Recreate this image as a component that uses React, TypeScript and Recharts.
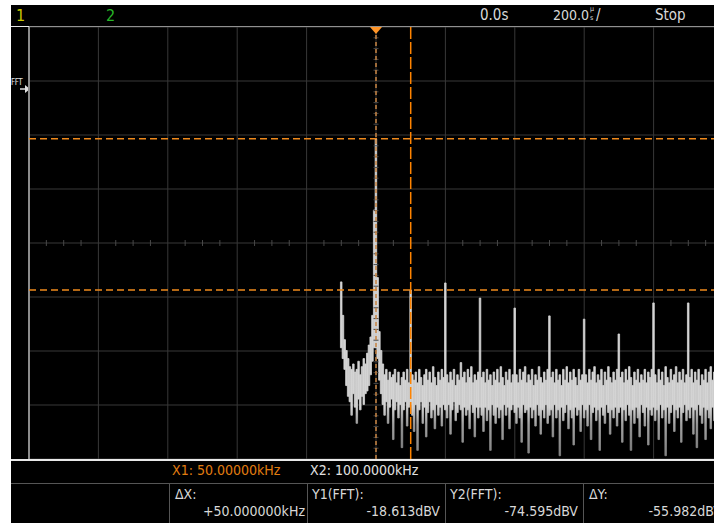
import { ComposedChart, Bar, XAxis, YAxis, CartesianGrid, ReferenceLine, ReferenceDot } from 'recharts'

// FFT magnitude (dBV) per 2.5 kHz display bin as [min, max], grouped in 50 kHz bands
const BIN_KHZ = 2.5
const band0 = [[-96, -71.6], [-100, -84], [-104, -93], [-110, -97], [-114, -100], [-116, -103], [-121, -104], [-113, -102], [-118, -105], [-124, -104], [-115, -101], [-119, -106], [-114, -103], [-117, -100], [-113, -102], [-112, -98], [-110, -95], [-106, -92], [-101, -84], [-96, -45]]
const band1 = [[-96, -18.613], [-100, -70], [-108, -90], [-113, -97], [-117, -102], [-121, -106], [-116, -104], [-124, -108], [-118, -105], [-115, -107], [-130, -106], [-119, -104], [-116, -109], [-122, -105], [-117, -110], [-133, -107], [-119, -105], [-116, -108], [-125, -104], [-118, -109]]
const band2 = [[-117, -74.595], [-121, -106], [-127, -108], [-117, -105], [-134, -109], [-119, -104], [-116, -107], [-124, -110], [-118, -106], [-129, -104], [-120, -108], [-116, -105], [-122, -109], [-119, -103], [-126, -107], [-117, -110], [-121, -105], [-118, -108], [-125, -104], [-117, -107]]
const band3 = [[-119, -72.0], [-122, -106], [-117, -109], [-128, -105], [-119, -108], [-116, -104], [-123, -110], [-120, -106], [-117, -108], [-119, -101.5], [-131, -107], [-118, -105], [-121, -109], [-119, -104], [-126, -107], [-117, -103], [-120, -109], [-129, -106], [-118, -108], [-122, -105]]
const band4 = [[-118, -77.6], [-121, -107], [-127, -105], [-118, -109], [-123, -104], [-119, -108], [-134, -106], [-117, -110], [-121, -105], [-124, -108], [-118, -104], [-122, -109], [-119, -103], [-130, -107], [-117, -110], [-121, -105], [-118, -108], [-126, -104], [-119, -109], [-117, -106]]
const band5 = [[-120, -81.3], [-124, -106], [-118, -109], [-122, -104], [-131, -108], [-117, -105], [-120, -103], [-119, -109], [-135, -106], [-118, -108], [-122, -104], [-119, -110], [-125, -106], [-117, -108], [-121, -103], [-128, -107], [-119, -109], [-122, -105], [-117, -108], [-124, -104]]
const band6 = [[-121, -84.2], [-119, -107], [-129, -105], [-117, -109], [-122, -104], [-119, -108], [-136, -106], [-118, -110], [-123, -104], [-120, -108], [-117, -103], [-126, -109], [-119, -105], [-122, -108], [-132, -104], [-118, -107], [-121, -110], [-119, -104], [-127, -108], [-117, -106]]
const band7 = [[-122, -85.4], [-119, -106], [-125, -109], [-117, -104], [-130, -108], [-120, -105], [-118, -103], [-123, -109], [-119, -106], [-134, -108], [-118, -104], [-121, -110], [-124, -105], [-117, -108], [-120, -103], [-128, -107], [-119, -109], [-122, -105], [-118, -108], [-125, -104]]
const band8 = [[-120, -90.9], [-118, -107], [-131, -105], [-119, -109], [-123, -104], [-117, -108], [-121, -103], [-134, -107], [-119, -110], [-124, -105], [-118, -108], [-122, -104], [-129, -109], [-117, -106], [-120, -108], [-125, -104], [-118, -109], [-132, -105], [-119, -107], [-121, -104]]
const band9 = [[-118, -79.4], [-123, -106], [-119, -109], [-130, -104], [-117, -108], [-122, -105], [-119, -110], [-136, -103], [-118, -107], [-124, -109], [-120, -104], [-117, -108], [-127, -106], [-119, -103], [-122, -109], [-118, -105], [-131, -108], [-120, -104], [-117, -109], [-123, -106]]
const band10 = [[-119, -79.4], [-122, -107], [-118, -104], [-128, -109], [-119, -105], [-133, -108], [-117, -104], [-121, -110], [-124, -106], [-118, -108], [-130, -104], [-119, -109], [-122, -105], [-126, -103], [-118, -108], [-123, -105], [-119, -110], [-125, -106], [-120, -108], [-122, -105]]

// screen: 10 div x 100 kHz centred on 50 kHz, 8 div x 20 dB
const X_DOMAIN = [-450, 550]
const Y_DOMAIN = [-137.2, 22.8]
const X_GRID = [-350, -250, -150, -50, 50, 150, 250, 350, 450]
const Y_GRID = [2.8, -17.2, -37.2, -57.2, -77.2, -97.2, -117.2]
const CENTER_KHZ = 50
const CENTER_DBV = -57.2

// cursors
const X1_KHZ = 50
const X2_KHZ = 100
const Y1_DBV = -18.613
const Y2_DBV = -74.595

const trace = [band0, band1, band2, band3, band4, band5, band6, band7, band8, band9, band10]
  .flat()
  .map((span, i) => ({ khz: i * BIN_KHZ, span }))

// minor ticks on the centre cross: 4 per division across, 5 per division down
const minorX: number[] = []
for (let k = -450; k <= 550; k += 25) if ((k - 50) % 100 !== 0) minorX.push(k)
const minorY: number[] = []
for (let i = 0; i <= 40; i++) if (i % 5 !== 0) minorY.push(22.8 - i * 4)

const FONT = "'Liberation Sans Narrow', 'DejaVu Sans Condensed', 'Roboto Condensed', sans-serif"
const ORANGE = '#f08a1c'

const txt = (left: number, top: number, size: number, color: string, extra: any = {}) => ({
  position: 'absolute' as const,
  left,
  top,
  fontSize: size,
  color,
  fontFamily: FONT,
  lineHeight: 1,
  whiteSpace: 'nowrap' as const,
  ...extra,
})

const PeakMarker = (props: any) => {
  const { cx, cy } = props
  return <path d={`M${cx - 6},${cy} L${cx + 6},${cy} L${cx},${cy + 7} Z`} fill="#ff9426" />
}

export default function App() {
  return (
    <div style={{ position: 'absolute', left: 0, top: 0, width: 714, height: 523, background: '#fff', overflow: 'hidden' }}>
      <div style={{ position: 'absolute', left: 11, top: 5, width: 703, height: 518, background: '#000' }} />

      {/* status bar */}
      <div style={txt(16, 8, 16, '#c8c800')}>1</div>
      <div style={txt(106, 8, 16, '#28b428')}>2</div>
      <div style={txt(480, 8, 15, '#d8d8d8')}>0.0s</div>
      <div style={txt(553, 8, 14, '#d8d8d8')}>200.0</div>
      <div style={txt(590, 6, 7, '#d8d8d8')}>µ</div>
      <div style={txt(590, 15, 7, '#d8d8d8')}>s</div>
      <div style={txt(596, 8, 15, '#d8d8d8')}>/</div>
      <div style={txt(655, 8, 15, '#d8d8d8')}>Stop</div>
      <div style={{ position: 'absolute', left: 11, top: 26, width: 703, height: 1, background: '#e8e8e8' }} />

      {/* FFT ground marker */}
      <div style={txt(11, 79, 8, '#e0e0e0', { letterSpacing: -0.5 })}>FFT</div>
      <svg style={{ position: 'absolute', left: 11, top: 84 }} width={20} height={12}>
        <line x1={9} y1={5} x2={14} y2={5} stroke="#e0e0e0" strokeWidth={1.5} />
        <path d="M14,1 L19,5 L14,9 Z" fill="#e0e0e0" />
      </svg>

      <div style={{ position: 'absolute', left: 0, top: 0 }}>
        <ComposedChart width={730} height={523} data={trace} barCategoryGap={0} barGap={0} margin={{ top: 27, right: 7, bottom: 64, left: 29 }}>
          <defs>
            <linearGradient id="traceShade" gradientUnits="userSpaceOnUse" x1={0} y1={27} x2={0} y2={459}>
              <stop offset="0.88" stopColor="#d4d4d4" />
              <stop offset="0.92" stopColor="#a0a0a0" />
              <stop offset="1" stopColor="#808080" />
            </linearGradient>
          </defs>
          <XAxis dataKey="khz" type="number" domain={X_DOMAIN} ticks={X_GRID} hide allowDataOverflow />
          <YAxis type="number" domain={Y_DOMAIN} ticks={Y_GRID} hide allowDataOverflow />
          <CartesianGrid stroke="#383838" strokeWidth={1} />
          <ReferenceLine x={-450} stroke="#8c8c8c" strokeWidth={2} />
          {minorX.map((k) => (
            <ReferenceLine key={`mx${k}`} segment={[{ x: k, y: CENTER_DBV - 1.1 }, { x: k, y: CENTER_DBV + 1.1 }]} stroke="#484848" />
          ))}
          {minorY.map((d) => (
            <ReferenceLine key={`my${d}`} segment={[{ x: CENTER_KHZ - 3.6, y: d }, { x: CENTER_KHZ + 3.6, y: d }]} stroke="#484848" />
          ))}
          <Bar
            dataKey="span"
            barSize={2}
            fill="url(#traceShade)"
            stroke="url(#traceShade)"
            strokeWidth={0.8}
            isAnimationActive={false}
          />
          <ReferenceLine y={Y1_DBV} stroke={ORANGE} strokeWidth={1.5} strokeDasharray="7 4" />
          <ReferenceLine y={Y2_DBV} stroke={ORANGE} strokeWidth={1.5} strokeDasharray="7 4" />
          <ReferenceLine x={X1_KHZ} stroke="#c88442" strokeWidth={1.5} strokeDasharray="4 3" />
          <ReferenceLine x={X2_KHZ} stroke="#ff8400" strokeWidth={1.5} strokeDasharray="12 3" />
          <ReferenceDot x={X1_KHZ} y={Y_DOMAIN[1]} r={6} shape={PeakMarker} ifOverflow="visible" />
        </ComposedChart>
      </div>
      <div style={{ position: 'absolute', left: 11, top: 459, width: 703, height: 1.5, background: '#e8e8e8' }} />

      {/* cursor readout */}
      <div style={txt(172, 463, 14, '#e07c10')}>X1: 50.00000kHz</div>
      <div style={txt(310, 463, 14, '#e0e0e0')}>X2: 100.0000kHz</div>
      <div style={{ position: 'absolute', left: 11, top: 483, width: 703, height: 1, background: '#555' }} />
      {[169, 307, 445, 583].map((x) => (
        <div key={x} style={{ position: 'absolute', left: x, top: 484, width: 1, height: 39, background: '#555' }} />
      ))}
      <div style={txt(175, 487, 14, '#d8d8d8')}>ΔX:</div>
      <div style={txt(173, 504, 14, '#d8d8d8', { width: 132, textAlign: 'right' })}>+50.000000kHz</div>
      <div style={txt(312, 487, 14, '#d8d8d8')}>Y1(FFT):</div>
      <div style={txt(311, 504, 14, '#d8d8d8', { width: 129, textAlign: 'right' })}>-18.613dBV</div>
      <div style={txt(450, 487, 14, '#d8d8d8')}>Y2(FFT):</div>
      <div style={txt(449, 504, 14, '#d8d8d8', { width: 129, textAlign: 'right' })}>-74.595dBV</div>
      <div style={txt(589, 487, 14, '#d8d8d8')}>ΔY:</div>
      <div style={txt(588, 504, 14, '#d8d8d8', { width: 134, textAlign: 'right' })}>-55.982dBV</div>
    </div>
  )
}
